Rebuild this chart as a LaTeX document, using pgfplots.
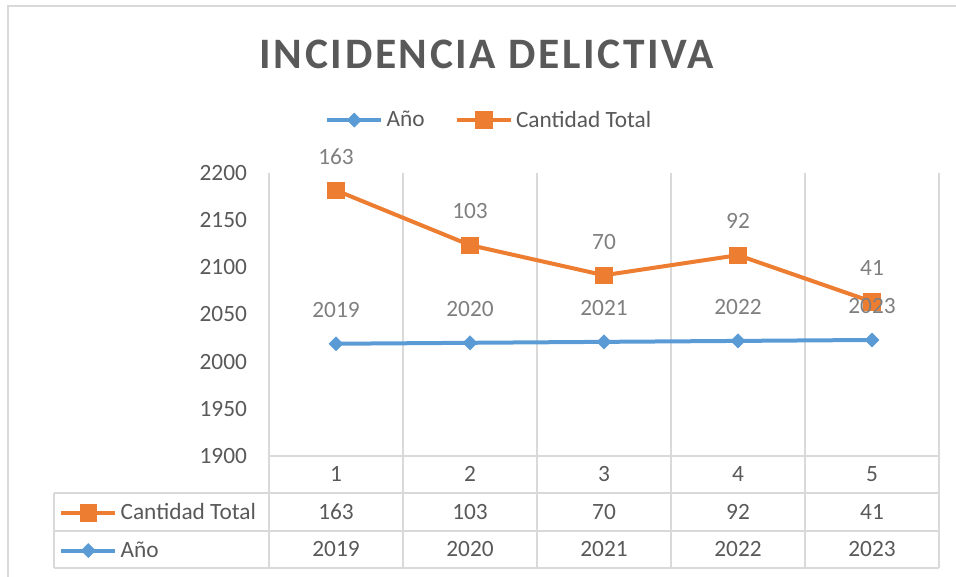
\documentclass[border=0pt]{standalone}
\usepackage{fontspec}
\setmainfont{Carlito}
\newfontfamily\titlefont[LetterSpace=6]{Carlito}
\usepackage{pgfplots}
\pgfplotsset{compat=1.18}
\definecolor{cblue}{HTML}{5B9BD5}
\definecolor{corange}{HTML}{ED7D31}
\definecolor{tgray}{HTML}{595959}
\definecolor{lgray}{HTML}{7F7F7F}
\definecolor{ggray}{HTML}{D9D9D9}
\newcommand{\lblfont}{\fontsize{17.5}{20}\selectfont}
\pgfplotsset{
  /pgf/number format/.cd, 1000 sep={}, assume math mode=true, /pgfplots/.cd,
  legend image code/.code={\draw[mark repeat=2,mark phase=2,#1] plot coordinates {(0pt,0pt) (20.25pt,0pt) (40.5pt,0pt)};},
  anio/.style={cblue, line width=3pt, mark=square*, mark size=3.7pt, mark options={solid, rotate=45, line width=0.5pt}},
  cant/.style={corange, line width=3pt, mark=square*, mark size=6.2pt, mark options={solid, line width=0.5pt}},
  base/.style={at={(201.75pt,-342pt)}, anchor=south west, width=502.5pt, height=212.25pt, scale only axis,
    xmin=0.5, xmax=5.5, clip=false,
    nodes near coords, every node near coord/.append style={font=\lblfont, text=lgray, anchor=center, yshift=25.3pt},
    legend cell align=left,
    legend style={draw=none, fill=none, inner sep=0pt, font=\lblfont, text=tgray,
      nodes={inner sep=0pt}, column sep=2.5pt,
      /tikz/every even column/.append style={column sep=22.5pt}},
  },
}
\begin{document}
\begin{tikzpicture}[x=0.75pt, y=-0.75pt]
\useasboundingbox (0,0) rectangle (956,577);
\draw[ggray, line width=1.5pt] (8,600) -- (8,6.5) -- (960,6.5);
% grid and data table rules
\foreach \x in {269,403,537,671,805,939} \draw[ggray, line width=1.2pt] (\x,173) -- (\x,568);
\draw[ggray, line width=1.2pt] (269,456) -- (939,456);
\foreach \y in {493,531,568} \draw[ggray, line width=1.2pt] (54,\y) -- (939,\y);
\draw[ggray, line width=1.2pt] (54,493) -- (54,568);
\node[font=\titlefont\bfseries\fontsize{32.6}{36}\selectfont, text=tgray] at (487,54) {INCIDENCIA DELICTIVA};

% secondary (hidden) axis for Cantidad Total
\begin{axis}[base, hide axis, ymin=-128, ymax=182,
  legend columns=1, legend style={at={(-0.3134,-0.2667)}, anchor=west, row sep=15pt}]
\addplot[cant] coordinates {(1,163) (2,103) (3,70) (4,92) (5,41)};
\addlegendentry{Cantidad Total}
\addlegendimage{anio}
\addlegendentry{Año}
\end{axis}

% primary axis for Año
\begin{axis}[base, ymin=1900, ymax=2200, ytick={1900,1950,...,2200},
  xtick={1,...,5}, axis line style={draw=none}, major tick length=0pt,
  tick label style={font=\lblfont, text=tgray},
  yticklabel style={xshift=-13pt}, xticklabel style={anchor=center, yshift=-13.5pt},
  legend columns=2, legend style={at={(0.0836,1.187)}, anchor=west}]
\addplot[anio] coordinates {(1,2019) (2,2020) (3,2021) (4,2022) (5,2023)};
\addlegendentry{Año}
\addlegendimage{cant}
\addlegendentry{Cantidad Total}
\end{axis}

% data table values
\foreach \x/\v in {336/163,470/103,604/70,738/92,872/41}
  \node[font=\lblfont, text=tgray] at (\x,512) {\v};
\foreach \x/\v in {336/2019,470/2020,604/2021,738/2022,872/2023}
  \node[font=\lblfont, text=tgray] at (\x,549) {\v};
\end{tikzpicture}
\end{document}
